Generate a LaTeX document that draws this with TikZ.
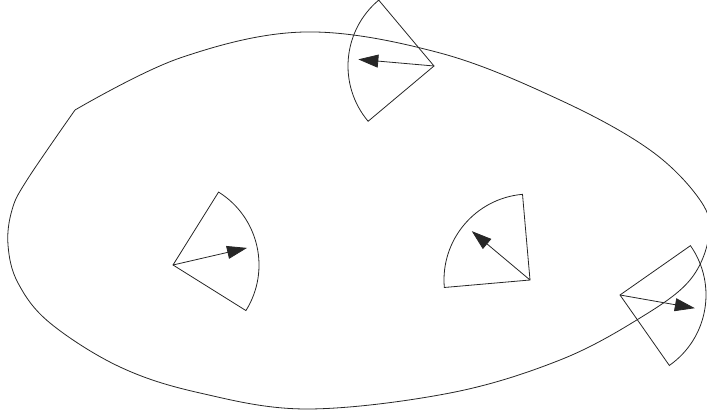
\documentclass[tikz,border=0pt]{standalone}
\usetikzlibrary{arrows.meta}

\begin{document}
\begin{tikzpicture}[
  x=1pt, y=1pt,
  region/.style={line width=0.8pt, black!85},
  fov/.style={line width=0.8pt, black!85, line join=miter},
  arr/.style={-{Triangle[length=20pt,width=13pt]}, line width=0.8pt, black!85}
]
\useasboundingbox (0,0) rectangle (707,417);

%% ═══════════════════════════════════════════════
%% Region boundary (one kink at upper left)
%% ═══════════════════════════════════════════════
\draw[region] plot[smooth, tension=0.6] coordinates {
  (75,307) (180,359) (305,385) (440,364) (560,317) (650,267) (700,217)
  (709,182) (690,137) (640,99) (560,57) (450,24) (307,8) (200,24)
  (120,50) (50,94) (18,134) (8,172) (12,207) (27,237) (75,307)};

%% ═══════════════════════════════════════════════
%% Sensors: apex, heading
%% ═══════════════════════════════════════════════
\coordinate (s_top)   at (434,351);
\coordinate (s_left)  at (173,152);
\coordinate (s_mid)   at (530,137);
\coordinate (s_right) at (620,122);

\foreach \s/\d in {s_top/175, s_left/13, s_mid/140, s_right/-10} {
  % field of view, 90 degrees wide
  \draw[fov] (\s) -- ++({\d+45}:86)
        arc[start angle=\d+45, end angle=\d-45, radius=86] -- cycle;
  % heading
  \draw[arr] (\s) -- ++(\d:76) coordinate (\s_tip);
}

\end{tikzpicture}
\end{document}
